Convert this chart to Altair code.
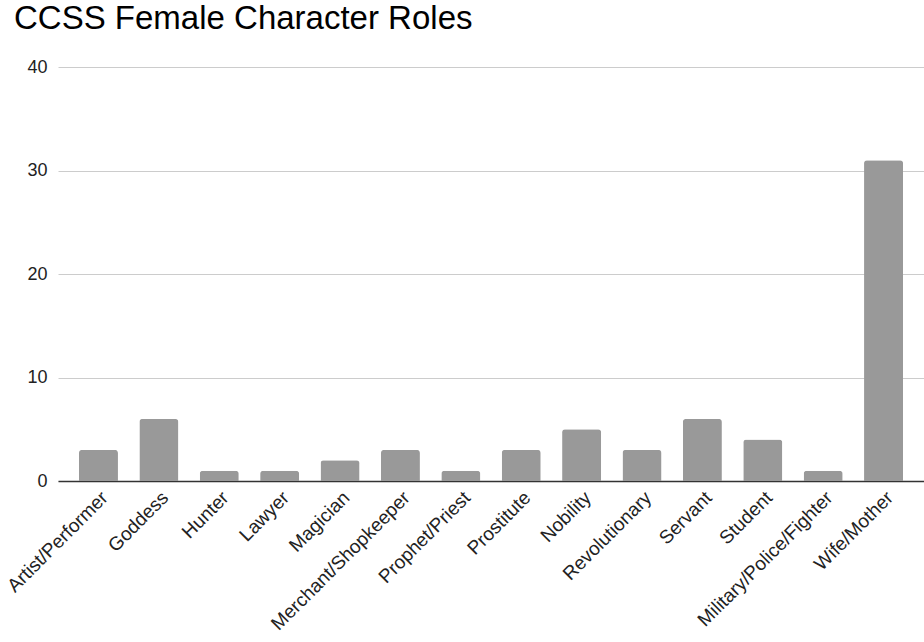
import altair as alt
import pandas as pd

roles = [
    "Artist/Performer", "Goddess", "Hunter", "Lawyer", "Magician",
    "Merchant/Shopkeeper", "Prophet/Priest", "Prostitute", "Nobility",
    "Revolutionary", "Servant", "Student", "Military/Police/Fighter",
    "Wife/Mother",
]
counts = [3, 6, 1, 1, 2, 3, 1, 3, 5, 3, 6, 4, 1, 31]
y_ticks = [0, 10, 20, 30, 40]

df = pd.DataFrame({"role": roles, "count": counts})

font = "Liberation Sans"

chart = (
    alt.Chart(df)
    .mark_bar(color="#999999", cornerRadiusTopLeft=3, cornerRadiusTopRight=3)
    .encode(
        x=alt.X(
            "role:N",
            sort=roles,
            title=None,
            scale=alt.Scale(paddingInner=0.354, paddingOuter=0.347),
            axis=alt.Axis(
                labelAngle=-45,
                labelFontSize=19,
                labelColor="#222222",
                labelFont=font,
                domainColor="#333333",
                domainWidth=1.5,
                ticks=False,
                labelPadding=7,
                labelOverlap=False,
                labelLimit=400,
                grid=False,
            ),
        ),
        y=alt.Y(
            "count:Q",
            title=None,
            scale=alt.Scale(domain=[0, 40], nice=False),
            axis=alt.Axis(
                values=y_ticks,
                labelFontSize=18,
                labelColor="#222222",
                labelFont=font,
                domain=False,
                ticks=False,
                labelPadding=11,
                gridColor="#cccccc",
                gridWidth=1,
            ),
        ),
    )
    .properties(
        width=866,
        height=414,
        padding={"left": 58, "top": 67, "right": 0, "bottom": 161},
        autosize=alt.AutoSizeParams(type="none"),
        title=alt.TitleParams(
            "CCSS Female Character Roles",
            anchor="start",
            frame="group",
            font=font,
            fontSize=33,
            fontWeight="normal",
            color="#000000",
            dx=-44,
            offset=22,
        ),
    )
    .configure(background="white")
    .configure_view(stroke="transparent", strokeWidth=0)
)

chart.save("out.html", embed_options={"renderer": "svg", "actions": False})
